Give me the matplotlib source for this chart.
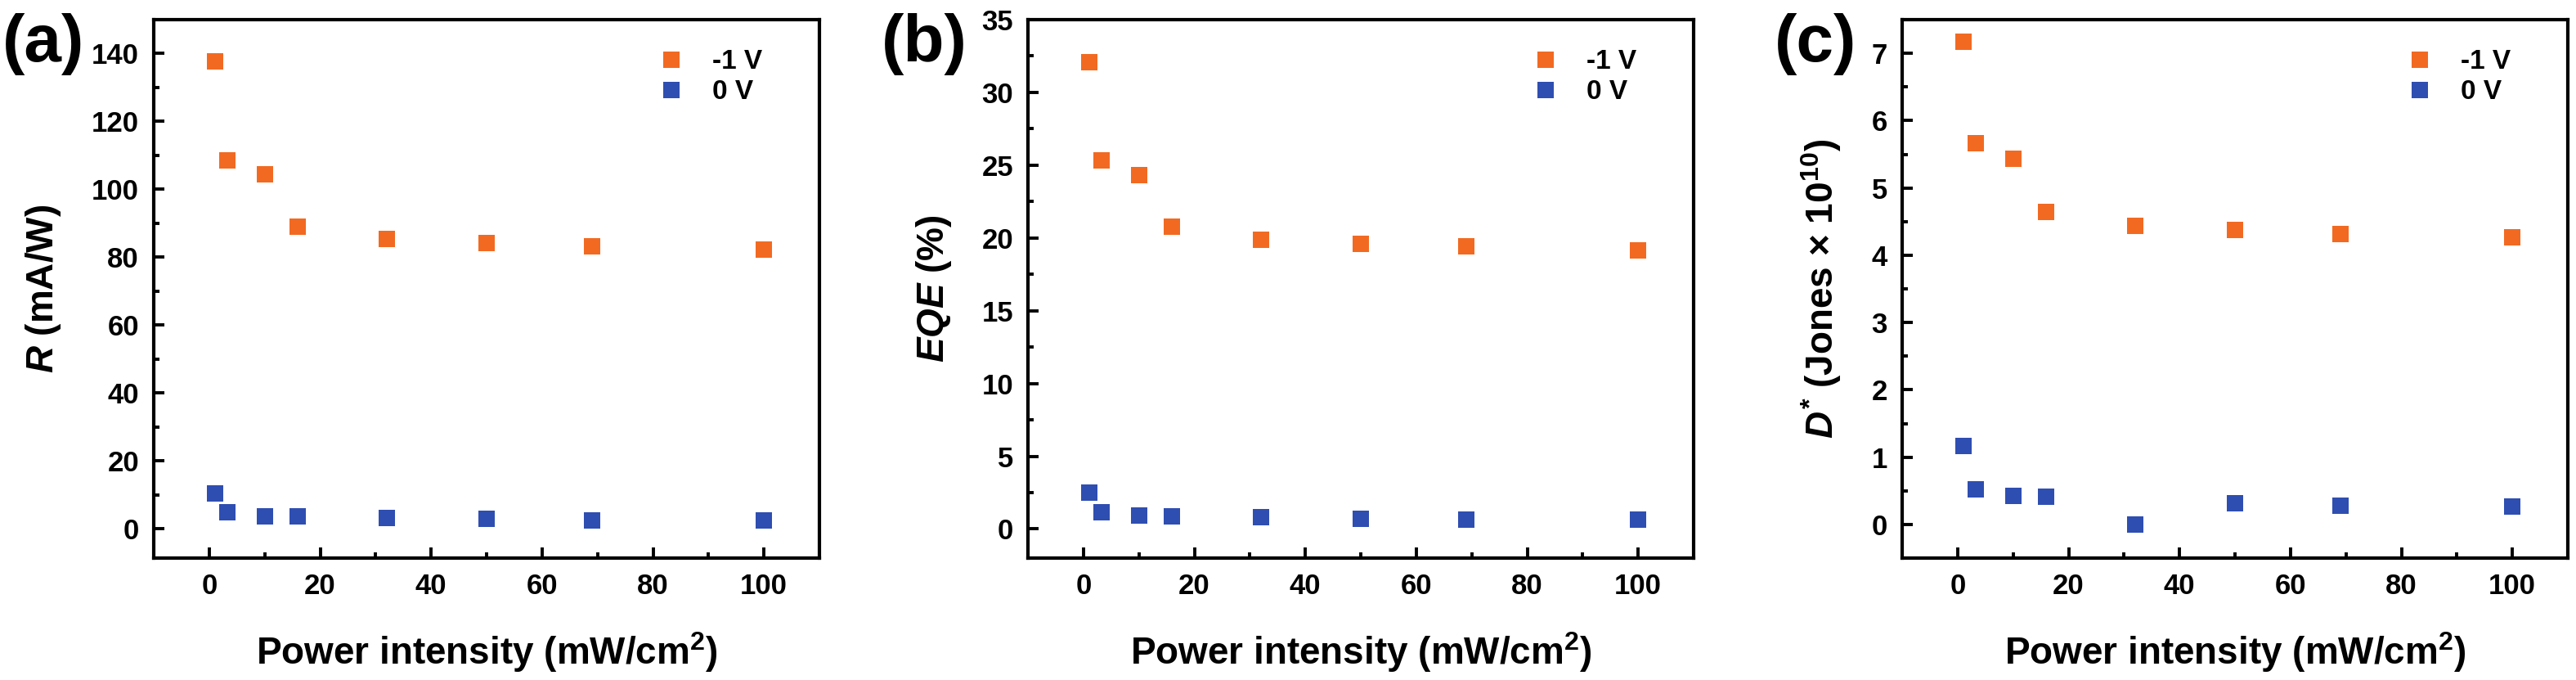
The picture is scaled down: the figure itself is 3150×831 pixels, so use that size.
import numpy as np
from matplotlib import pyplot as plt
from matplotlib.ticker import MultipleLocator, AutoMinorLocator

plt.rcParams['font.family'] = ['Liberation Sans', 'DejaVu Sans']
plt.rcParams['font.weight'] = 'bold'
plt.rcParams['mathtext.fontset'] = 'custom'
plt.rcParams['mathtext.rm'] = 'Liberation Sans:bold'
plt.rcParams['mathtext.it'] = 'Liberation Sans:italic:bold'
plt.rcParams['mathtext.bf'] = 'Liberation Sans:bold'

# power intensity (mW/cm2)
power = [1, 3.2, 10, 16, 32, 50, 69, 100]

# responsivity (mA/W)
R_neg1 = [137.6, 108.6, 104.4, 89.0, 85.4, 84.3, 83.3, 82.3]
R_0 = [10.5, 4.8, 3.8, 3.6, 3.2, 2.9, 2.5, 2.4]

# EQE (%)
EQE_neg1 = [32.1, 25.35, 24.3, 20.8, 19.9, 19.6, 19.4, 19.15]
EQE_0 = [2.5, 1.17, 0.9, 0.87, 0.8, 0.72, 0.63, 0.63]

# detectivity (Jones x 1e10)
D_neg1 = [7.17, 5.66, 5.43, 4.64, 4.44, 4.38, 4.32, 4.27]
D_0 = [1.16, 0.52, 0.42, 0.41, 0.0, 0.31, 0.28, 0.27]

series_labels = ['-1 V', '0 V']
colors = ['#F26A22', '#2F4EB1']

panels = [
    ('(a)', R_neg1, R_0, r'$\mathit{R}$ (mA/W)', (-8.6, 150), 20),
    ('(b)', EQE_neg1, EQE_0, r'$\mathit{EQE}$ (%)', (-2, 35), 5),
    ('(c)', D_neg1, D_0, r'$\mathit{D}^{*}$ (Jones × 10$^{10}$)', (-0.5, 7.5), 1),
]

W, H = 3150, 831
fig = plt.figure(figsize=(W / 100, H / 100), dpi=100)

lefts = [188, 1257, 2326]
ax_w, top, bottom = 814, 24, 682
tag_x = [3, 1078, 2170]

for i, (tag, y1, y0, ylabel, ylim, ystep) in enumerate(panels):
    ax = fig.add_axes([lefts[i] / W, (H - bottom) / H, ax_w / W, (bottom - top) / H])
    ax.plot(power, y1, 's', color=colors[0], ms=14, mew=0, label=series_labels[0])
    ax.plot(power, y0, 's', color=colors[1], ms=14, mew=0, label=series_labels[1])

    ax.set_xlim(-10, 110)
    ax.set_ylim(*ylim)
    ax.xaxis.set_major_locator(MultipleLocator(20))
    ax.xaxis.set_minor_locator(AutoMinorLocator(2))
    ax.yaxis.set_major_locator(MultipleLocator(ystep))
    ax.yaxis.set_minor_locator(AutoMinorLocator(2))

    for side in ax.spines.values():
        side.set_linewidth(3)
    ax.tick_params(which='both', direction='in', top=False, right=False,
                   width=2.8, labelsize=25, pad=13)
    ax.tick_params(which='major', length=9.5)
    ax.tick_params(which='minor', length=5)

    ax.set_xlabel('Power intensity (mW/cm$^{2}$)', fontsize=33, fontweight='bold', labelpad=27)
    ax.set_ylabel(ylabel, fontsize=33, fontweight='bold', labelpad=25)

    ax.legend(loc='upper left', bbox_to_anchor=(0.757, 0.945), frameon=False,
              fontsize=24, handlelength=1.0, handletextpad=1.0, labelspacing=0.18,
              borderpad=0, borderaxespad=0, markerscale=1.0)

    fig.text(tag_x[i] / W, 1 - 16 / H, tag, fontsize=59, fontweight='bold',
             ha='left', va='top')

fig.savefig('out.png', dpi=100)
